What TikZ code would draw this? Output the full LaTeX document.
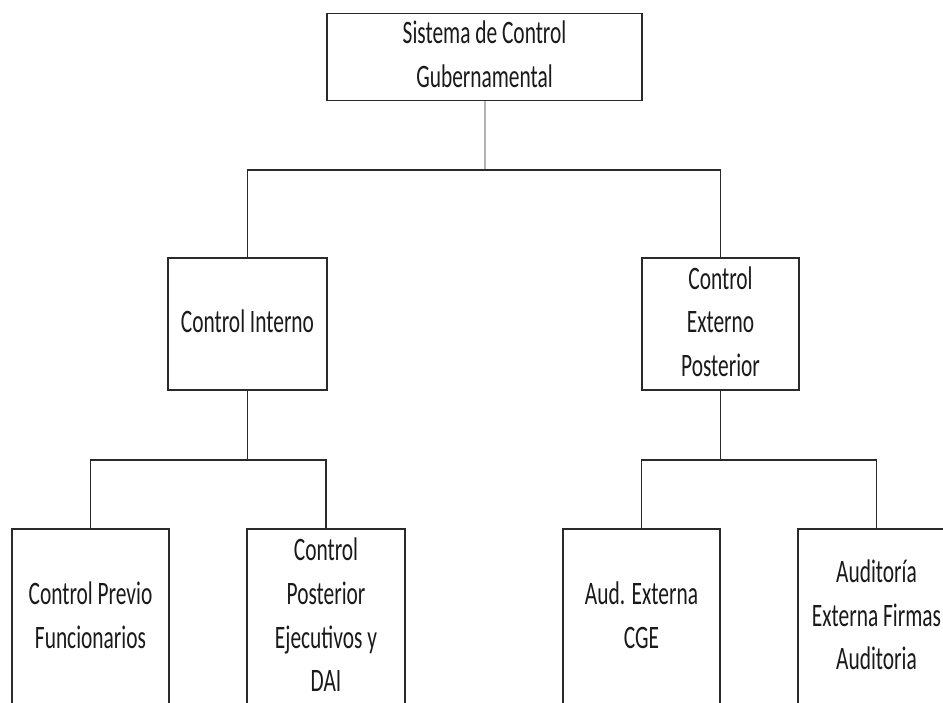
\documentclass[tikz,border=0pt]{standalone}
\usepackage{fontspec}
\setmainfont{Carlito}
\usepackage{graphicx}
\definecolor{linec}{HTML}{2A2A2A}
\definecolor{txtc}{HTML}{1A1A1A}
\definecolor{stemc}{HTML}{B4B4B4}
\newcommand{\lbl}[1]{\scalebox{1}[1.53]{\fontsize{21.4}{28.5}\selectfont\color{txtc}\begin{tabular}{@{}c@{}}#1\end{tabular}}}
\tikzset{
  x=1pt,y=1pt,
  box/.style={draw=linec, line width=1.3pt, fill=white, inner sep=0pt, rectangle},
  conn/.style={draw=linec, line width=1.1pt},
  stem/.style={draw=stemc, line width=2pt}
}
\begin{document}
\begin{tikzpicture}
\useasboundingbox (0,0) rectangle (943,702);
\fill[white] (0,0) rectangle (943,702);
\clip (0,0) rectangle (943,702);
% boxes
\node[box, minimum width=315, minimum height=86] (top) at (484.5,645) {\lbl{Sistema de Control\\Gubernamental}};
\node[box, minimum width=159, minimum height=132] (ci) at (247.5,378) {\lbl{Control Interno}};
\node[box, minimum width=157, minimum height=132] (ce) at (720.5,378) {\lbl{Control\\Externo\\Posterior}};
\node[box, minimum width=157, minimum height=177] (b1) at (90.5,84.5) {\lbl{Control Previo\\Funcionarios}};
\node[box, minimum width=158, minimum height=177] (b2) at (326,84.5) {\lbl{Control\\Posterior\\Ejecutivos y\\DAI}};
\node[box, minimum width=157, minimum height=177] (b3) at (641.5,84.5) {\lbl{Aud. Externa\\CGE}};
\node[box, minimum width=157, minimum height=177] (b4) at (876.5,84.5) {\lbl{Auditoría\\Externa Firmas\\Auditoria}};
% junctions
\coordinate (j1) at (484.5,532);
\coordinate (j2) at (247.5,242);
\coordinate (j3) at (720.5,242);
% connectors
\draw[stem] (top.south) -- (j1);
\draw[conn] (ci.north) |- (j1) -| (ce.north);
\draw[conn] (ci.south) -- (j2);
\draw[conn] (b1.north) |- (j2) -| (b2.north);
\draw[conn] (ce.south) -- (j3);
\draw[conn] (b3.north) |- (j3) -| (b4.north);
\end{tikzpicture}
\end{document}
